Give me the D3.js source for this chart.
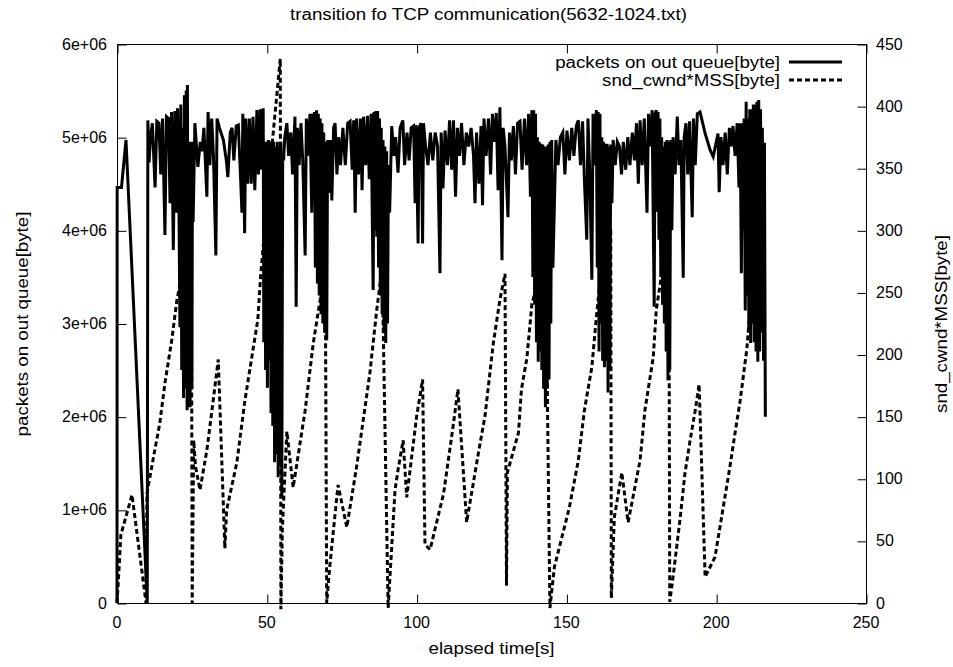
<!DOCTYPE html>
<html><head><meta charset="utf-8">
<script src="https://cdn.jsdelivr.net/npm/d3@7"></script>
<style>body{margin:0;background:#fff}text{font-family:"Liberation Sans",Arial,sans-serif;fill:#000}</style>
</head><body><svg id="c" width="953" height="667"></svg>
<script>
const title = "transition fo TCP communication(5632-1024.txt)";
const xLabel = "elapsed time[s]";
const yLabel = "packets on out queue[byte]";
const y2Label = "snd_cwnd*MSS[byte]";
const seriesNames = ["packets on out queue[byte]", "snd_cwnd*MSS[byte]"];
const xTicks = [0, 50, 100, 150, 200, 250];
const yTicks = [0, 1e6, 2e6, 3e6, 4e6, 5e6, 6e6];
const yTickLabels = ["0", "1e+06", "2e+06", "3e+06", "4e+06", "5e+06", "6e+06"];
const y2Ticks = [0, 50, 100, 150, 200, 250, 300, 350, 400, 450];

// [time s, bytes on out queue]
const queuePoints = [
[0,0],[0.05,4.46e6],[1.5,4.46e6],[3,4.97e6],[10.1,0],[10.3,5.18e6],
[10.7,4.73e6],[11.2,5.0e6],[11.8,5.15e6],[12.7,4.46e6],[13.3,5.17e6],[14,5.15e6],[14.6,4.6e6],[15.2,5.2e6],[16,3.95e6],[16.5,5.22e6],[17.2,5.2e6],[17.7,4.29e6],[18.2,5.27e6],[18.8,3.79e6],[19.3,5.28e6],[19.8,4.19e6],[20.2,5.31e6],[20.6,4.6e6],[21,2.96e6],[21.3,5.35e6],[21.6,2.5e6],[21.9,5.1e6],[22.2,2.2e6],[22.5,5.45e6],[22.8,2.3e6],[23.1,5.5e6],[23.4,2.07e6],[23.5,5.56e6],[23.8,2.2e6],[24.1,4.95e6],[24.4,2.1e6],[24.7,4.95e6],[25.0,2.3e6],[25.2,4.95e6],[25.4,4.09e6],[26,5.15e6],
[27,4.68e6],[27.8,4.95e6],[28.4,4.85e6],[29,5.1e6],[30,4.36e6],[30.4,5.27e6],[31,4.7e6],[31.6,5.2e6],[32.2,4.8e6],[33,3.73e6],[33.4,5.2e6],[34.2,5.1e6],[35.5,4.97e6],[36.5,4.75e6],[37,4.57e6],[37.8,5.05e6],[38.4,5.1e6],[39,4.75e6],[39.8,5.12e6],[40.5,5.13e6],[41.2,4.6e6],[41.7,4.19e6],[42,5.25e6],[42.6,3.97e6],[43,5.2e6],[43.6,4.5e6],[44.2,5.2e6],[44.8,4.5e6],[45.4,5.22e6],[46,4.43e6],[46.7,5.29e6],[47.2,4.6e6],[47.8,5.3e6],[48.3,4.65e6],[48.8,5.31e6],
[49,2.8e6],[49.3,4.95e6],[49.6,2.5e6],[49.9,4.95e6],[50.2,2.31e6],[50.5,4.97e6],[50.8,2.6e6],[51.1,4.95e6],[51.4,2.04e6],[51.7,4.96e6],[52,1.9e6],[52.3,4.95e6],[52.6,1.51e6],[52.9,4.9e6],[53.2,1.6e6],[53.5,4.95e6],[53.8,1.35e6],[54.1,4.9e6],[54.4,1.5e6],[54.7,4.95e6],[55,1.14e6],[55.3,4.8e6],
[55.6,4.75e6],[56,5.0e6],[56.7,5.15e6],[57.3,4.8e6],[58,5.05e6],[58.6,4.6e6],[59.4,5.22e6],[59.8,3.18e6],[60.2,5.1e6],[60.8,4.7e6],[61.4,5.15e6],[62,4.75e6],[62.8,3.73e6],[63.2,5.2e6],[63.8,4.8e6],[64.4,5.25e6],[65,4.19e6],
[65.3,5.25e6],[65.6,4.3e6],[65.9,5.27e6],[66.2,3.6e6],[66.6,5.29e6],[66.9,3.43e6],[67.2,5.25e6],[67.5,3.3e6],[67.8,5.2e6],[68.1,3.1e6],[68.4,5.15e6],[68.7,3.0e6],[69,5.05e6],[69.3,2.9e6],[69.6,4.95e6],[70,2.82e6],[70.3,4.97e6],
[70.8,4.4e6],[71.2,4.97e6],[71.7,4.32e6],[72.3,5.1e6],[72.8,5.15e6],[73.4,4.6e6],[74,5.0e6],[74.6,4.7e6],[75.4,5.1e6],[76.2,4.7e6],[77,5.15e6],[77.8,5.17e6],[78.5,4.65e6],[79,5.18e6],[79.5,4.19e6],[80,5.2e6],[80.6,4.6e6],[81.3,5.2e6],[81.8,4.43e6],[82.3,5.22e6],[83,4.7e6],[83.6,5.23e6],[84.2,4.55e6],[84.8,5.25e6],[85.5,3.36e6],
[85.8,5.27e6],[86.1,4.0e6],[86.4,5.28e6],[86.7,3.93e6],[87,5.28e6],[87.3,3.6e6],[87.6,5.2e6],[87.9,3.3e6],[88.2,5.1e6],[88.5,3.1e6],[88.8,4.97e6],[89.1,2.9e6],[89.4,4.9e6],[89.7,2.79e6],[90,4.85e6],[90.3,3.0e6],[90.6,4.7e6],
[91,4.19e6],[91.7,5.12e6],[92.4,4.8e6],[93,5.0e6],[93.8,4.62e6],[94.5,5.1e6],[95.4,5.18e6],[96,4.7e6],[96.8,5.05e6],[97.5,4.75e6],[98.2,5.1e6],[99,5.12e6],[99.5,4.29e6],[99.8,5.13e6],[100.5,3.86e6],[100.8,5.1e6],[101.5,5.15e6],[102,3.86e6],[102.3,5.15e6],[103,4.9e6],[103.8,4.7e6],[104.6,5.05e6],[105.4,4.75e6],[106.2,5.05e6],[107,4.9e6],[107.8,3.54e6],[108.2,5.05e6],[108.8,4.45e6],[109.5,5.07e6],[110.3,4.7e6],[111,5.18e6],[111.7,4.65e6],[112.3,5.18e6],[113,4.36e6],[113.6,5.1e6],[114.3,4.8e6],[115,5.15e6],[115.8,4.7e6],[116.6,5.05e6],[117.4,4.9e6],[118.2,5.1e6],[119,4.8e6],[119.5,4.29e6],[120,5.05e6],[120.8,4.5e6],[121.5,5.12e6],[122,4.27e6],[122.5,5.2e6],[123.2,4.8e6],[124,5.2e6],[124.7,4.6e6],[125.3,5.25e6],[126,4.95e6],[126.6,5.26e6],[127.2,4.43e6],[127.8,5.32e6],[128.5,3.68e6],[128.9,5.1e6],
[129.5,4.9e6],[130.5,4.14e6],[131,5.05e6],[131.6,4.75e6],[132.3,5.12e6],[133,4.6e6],[133.7,5.15e6],[134.5,5.17e6],[135.2,4.65e6],[136,5.2e6],[136.7,4.7e6],[137.4,5.25e6],[138,4.36e6],[138.5,5.29e6],
[138.8,3.5e6],[139.1,5.29e6],[139.4,3.2e6],[139.7,5.25e6],[140,2.8e6],[140.3,5.0e6],[140.6,2.59e6],[140.9,4.95e6],[141.2,2.7e6],[141.5,4.93e6],[141.8,2.5e6],[142.1,4.92e6],[142.4,2.3e6],[142.7,4.9e6],[143,2.1e6],[143.3,4.9e6],[143.6,2.3e6],[143.9,4.92e6],[144.2,2.4e6],[144.5,4.95e6],[144.8,3.0e6],[145.1,4.97e6],[145.5,3.6e6],[146,4.29e6],
[146.5,4.97e6],[147.2,4.7e6],[148,5.0e6],[148.8,5.05e6],[149.5,4.6e6],[150.2,5.07e6],[151,4.75e6],[151.8,5.1e6],[152.5,4.8e6],[153.3,5.12e6],[154,5.18e6],[154.7,4.7e6],[155.4,5.17e6],[156,4.55e6],[156.8,3.9e6],[157.2,5.2e6],[157.8,4.6e6],[158.5,3.47e6],[158.9,5.25e6],[159.5,4.7e6],[160,5.29e6],
[160.3,3.6e6],[160.6,5.27e6],[160.9,2.7e6],[161.2,5.25e6],[161.5,3.0e6],[161.8,5.0e6],[162.1,2.6e6],[162.4,4.95e6],[162.7,2.53e6],[163,4.93e6],[163.3,2.6e6],[163.6,4.93e6],[163.9,2.26e6],[164.2,4.9e6],[164.5,2.5e6],[164.8,4.92e6],[165.2,4.29e6],
[165.6,4.97e6],[166.3,4.7e6],[167,4.95e6],[167.7,4.9e6],[168.4,4.6e6],[169,4.95e6],[169.8,4.65e6],[170.5,5.0e6],[171.2,4.7e6],[172,5.05e6],[172.7,4.75e6],[173.4,5.15e6],[174,4.5e6],[174.6,5.18e6],[175.3,4.7e6],[176,5.2e6],[176.9,4.19e6],[177.4,5.25e6],[178,4.9e6],[178.6,5.29e6],[179.3,3.18e6],[179.6,5.25e6],[180,5.29e6],
[180.3,4.2e6],[180.6,5.27e6],[180.9,3.9e6],[181.2,5.2e6],[181.5,3.5e6],[181.8,5.0e6],[182.1,3.2e6],[182.4,4.9e6],[182.7,3.0e6],[183,4.95e6],[183.3,2.7e6],[183.6,4.97e6],[183.9,2.39e6],[184.2,4.95e6],[184.5,2.5e6],[184.8,4.97e6],[185.2,4.0e6],
[185.6,5.0e6],[186.3,4.6e6],[187,5.22e6],[187.6,4.7e6],[188.2,4.97e6],[189,3.49e6],[189.3,5.0e6],[189.9,5.15e6],[190.5,4.6e6],[191.1,5.17e6],[192,4.14e6],[192.4,5.2e6],[193,4.7e6],[193.7,5.25e6],[194.6,5.27e6],[196.3,5.04e6],[198,4.86e6],[199,4.79e6],[200.6,5.04e6],[201,4.41e6],[201.6,5.0e6],[202.3,4.7e6],[203,5.05e6],[203.7,4.6e6],[204.4,5.1e6],[205,4.9e6],[205.6,5.12e6],[206.3,4.8e6],[207,5.15e6],[207.6,4.46e6],[208,5.15e6],
[208.4,3.54e6],[208.7,5.15e6],[209,4.0e6],[209.3,5.2e6],[209.7,3.14e6],[210,5.38e6],[210.3,3.3e6],[210.6,5.2e6],[210.9,2.9e6],[211.2,5.3e6],[211.5,2.79e6],[211.8,5.3e6],[212.1,3.0e6],[212.4,5.35e6],[212.7,2.8e6],[213,5.35e6],[213.3,2.7e6],[213.6,5.38e6],[213.9,2.59e6],[214.2,5.4e6],[214.5,2.7e6],[214.8,5.3e6],[215.1,2.9e6],[215.4,5.1e6],[215.8,2.6e6],[216.1,4.94e6],[216.4,2.0e6]
];

// [time s, snd_cwnd*MSS] (right axis)
const cwndPoints = [
[0,0],[0.5,20],[1.3,55],[2.7,67],[5,87],[7,50],[9.7,0],[10,88],[12,115],[14.3,145],[16,177],[18.3,212],[20,244],[21.5,262],[23,290],[24.8,314],[25.1,0],[25.6,131],[26.2,110],[27.7,91],[30,123],[32,161],[33.8,196],[36,44],[36.6,75],[40,113],[42.7,163],[45.4,204],[47,228],[48,265],[50,320],[52,375],[54.5,438],[54.7,-5],[55.2,60],[56.7,138],[58.8,93],[62.8,155],[65.5,209],[67.8,244],[69.5,280],[70,0],[71,29],[72.8,72],[73.8,95],[76.7,61],[80,110],[84.4,185],[86.7,236],[88.5,270],[90.5,-4],[92.8,91],[93.8,107],[95.5,131],[96.7,85],[100,150],[102,180],[102.8,47],[104.5,43],[109,88],[112,139],[113.8,172],[116.7,65],[121,126],[122.8,150],[125.6,209],[127.8,244],[129.5,265],[130,14],[130.3,105],[134,137],[135,172],[136.8,197],[138.5,241],[140,254],[143,300],[144.5,-4],[146,29],[151,77],[154,115],[156,155],[158.5,190],[160,230],[161,254],[164.8,300],[165,4],[166,69],[168.5,105],[170.6,65],[174.6,115],[176.2,155],[179,198],[180,236],[182,268],[184.2,300],[184.5,1],[185.6,21],[188,69],[189.6,105],[191.3,131],[193,155],[194.3,176],[196.3,21],[199.6,37],[202,72],[204.6,110],[206.3,137],[208,163],[210.2,204],[211.3,236],[213,268],[215,285]
];

const L = 117, R = 866, T = 44, B = 603;
const SX = 1.17;   // horizontal text stretch for labels
const SXT = 1.0;   // tick label stretch
const svg = d3.select("#c");
const x = d3.scaleLinear().domain([0, 250]).range([L, R]);
const y = d3.scaleLinear().domain([0, 6e6]).range([B, T]);
const y2 = d3.scaleLinear().domain([0, 450]).range([B, T]);

function txt(g, s, xx, yy, anchor, rot, sx) {
  const t = g.append("text").attr("x", xx).attr("y", yy)
    .attr("text-anchor", anchor).attr("dominant-baseline", "central")
    .attr("font-size", 16).text(s);
  if (rot) t.attr("transform", `rotate(${rot},${xx},${yy})`);
  const n = t.node().getComputedTextLength();
  t.attr("textLength", n * (sx || SX)).attr("lengthAdjust", "spacingAndGlyphs");
  return t;
}

const g = svg.append("g");
g.append("rect").attr("x", L + 0.5).attr("y", T + 0.5).attr("width", R - L).attr("height", B - T)
  .attr("fill", "none").attr("stroke", "#000").attr("stroke-width", 1);

const tk = 9;
const axB = d3.axisBottom(x).tickValues(xTicks).tickSizeInner(-tk).tickSizeOuter(0).tickFormat("");
const axT = d3.axisTop(x).tickValues(xTicks).tickSizeInner(-tk).tickSizeOuter(0).tickFormat("");
const axL = d3.axisLeft(y).tickValues(yTicks).tickSizeInner(-tk).tickSizeOuter(0).tickFormat("");
const axR = d3.axisRight(y2).tickValues(y2Ticks).tickSizeInner(-tk).tickSizeOuter(0).tickFormat("");
[[axB, `translate(0.5,${B + 0.5})`], [axT, `translate(0.5,${T + 0.5})`], [axL, `translate(${L + 0.5},0.5)`], [axR, `translate(${R + 0.5},0.5)`]]
  .forEach(([a, tr]) => {
    const ag = g.append("g").attr("transform", tr).call(a);
    ag.select(".domain").remove();
    ag.selectAll("line").attr("stroke", "#000");
  });

yTicks.forEach((v, i) => txt(g, yTickLabels[i], L - 10, y(v), "end", 0, SXT));
y2Ticks.forEach(v => txt(g, String(v), R + 10, y2(v), "start", 0, SXT));
xTicks.forEach(v => txt(g, String(v), x(v), B + 19, "middle", 0, SXT));

txt(g, title, (L + R) / 2 - 3, 14, "middle");
txt(g, xLabel, (L + R) / 2, 648, "middle");
txt(g, yLabel, 22, 324, "middle", -90);
txt(g, y2Label, 941, 324, "middle", -90);

const lineQ = d3.line().x(d => x(d[0])).y(d => y(d[1]));
const lineC = d3.line().x(d => x(d[0])).y(d => y2(d[1]));
g.append("path").attr("d", lineQ(queuePoints)).attr("fill", "none").attr("stroke", "#000")
  .attr("stroke-width", 3).attr("stroke-linejoin", "miter").attr("stroke-miterlimit", 4);
g.append("path").attr("d", lineC(cwndPoints)).attr("fill", "none").attr("stroke", "#000")
  .attr("stroke-width", 3).attr("stroke-dasharray", "5,3").attr("stroke-linejoin", "miter").attr("stroke-miterlimit", 4);

const legY = [62, 80];
seriesNames.forEach((s, i) => {
  txt(g, s, 780, legY[i], "end");
  const ln = g.append("line").attr("x1", 789).attr("x2", 842).attr("y1", legY[i]).attr("y2", legY[i])
    .attr("stroke", "#000").attr("stroke-width", 3);
  if (i === 1) ln.attr("stroke-dasharray", "5,3");
});
</script></body></html>
